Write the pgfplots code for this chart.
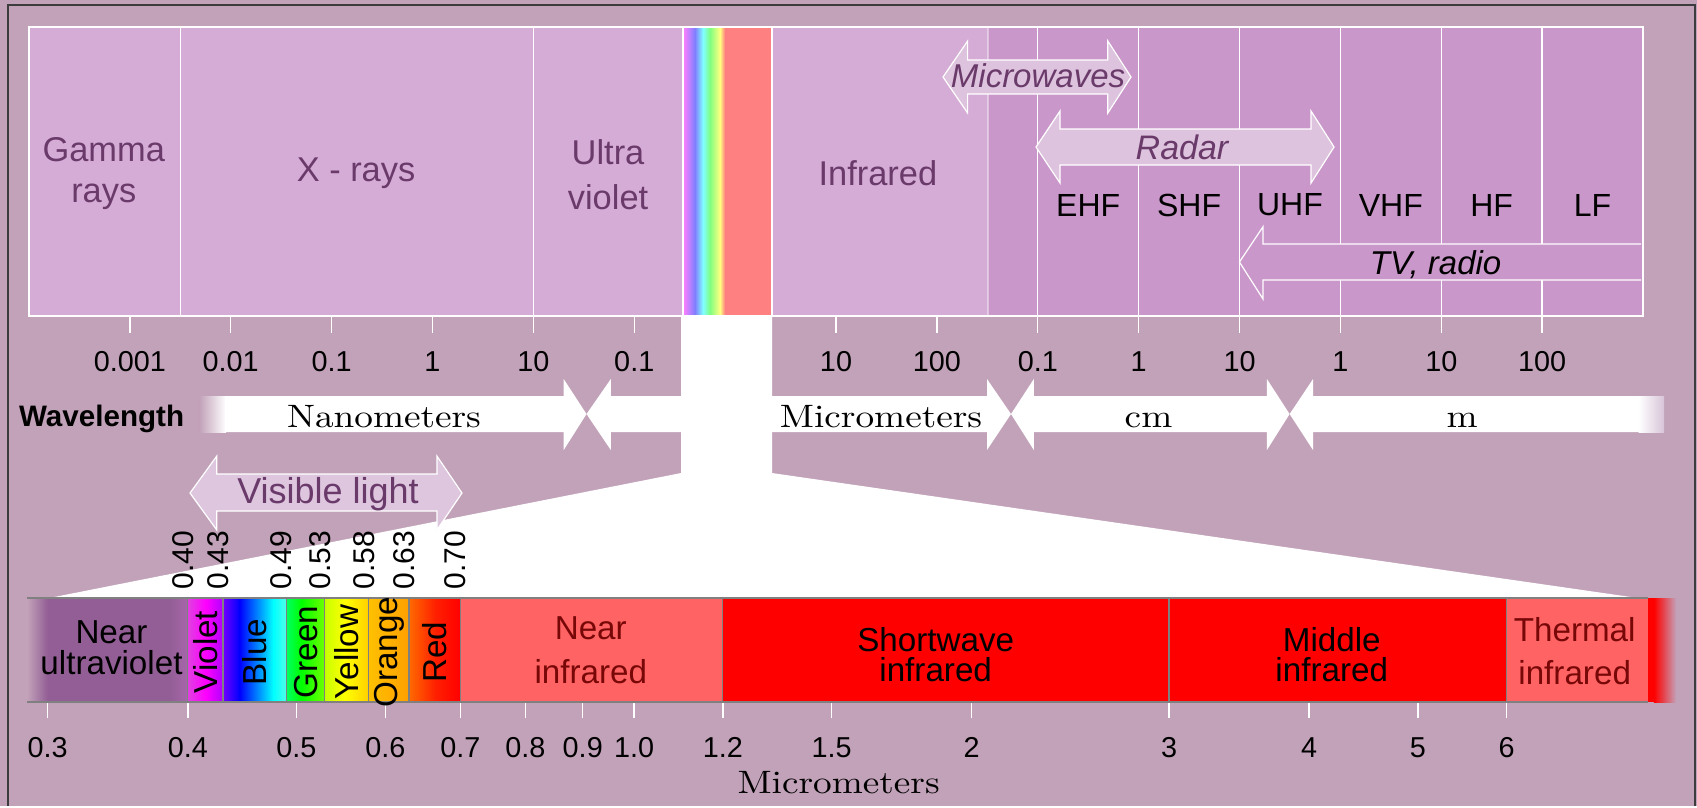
\documentclass[border=0pt]{standalone}
\usepackage{fontspec}
\setmainfont{Liberation Sans}
\newfontfamily\wserif{lmroman10-regular.otf}[FakeStretch=1.15]
\usepackage{pgfplots}
\pgfplotsset{compat=1.18}
\definecolor{bg}{HTML}{C2A2B9}
\definecolor{panelL}{HTML}{D5ACD5}
\definecolor{panelD}{HTML}{CA97CA}
\definecolor{arrowfill}{HTML}{DDC3DD}
\definecolor{vlfill}{HTML}{DEC6DF}
\definecolor{txtp}{HTML}{6A3A6A}
\definecolor{nuv}{HTML}{925E95}
\definecolor{nuvB}{HTML}{A866AC}
\definecolor{nir}{HTML}{FF6363}
\definecolor{dred}{HTML}{780808}
\definecolor{bordc}{HTML}{3C3C3C}
\definecolor{sepc}{HTML}{808080}
\definecolor{fadeend}{HTML}{D8C4D8}
\definecolor{rbA}{HTML}{FF80FF}
\definecolor{rbB}{HTML}{8080FF}
\definecolor{rbC}{HTML}{80FFFF}
\definecolor{rbD}{HTML}{80FF80}
\definecolor{rbE}{HTML}{FFFF80}
\definecolor{rbF}{HTML}{FF8080}
\definecolor{vA}{HTML}{E040E0}
\definecolor{vB}{HTML}{FF00FF}
\definecolor{vC}{HTML}{B000FF}
\definecolor{bA}{HTML}{7000FF}
\definecolor{bB}{HTML}{0000FF}
\definecolor{bC}{HTML}{00FFFF}
\definecolor{bD}{HTML}{50FFE8}
\definecolor{gA}{HTML}{00FF60}
\definecolor{gB}{HTML}{00FF00}
\definecolor{gC}{HTML}{70FF00}
\definecolor{yA}{HTML}{C8FF00}
\definecolor{yB}{HTML}{FFFF00}
\definecolor{yC}{HTML}{FFD000}
\definecolor{oA}{HTML}{FFC000}
\definecolor{oB}{HTML}{FFA000}
\definecolor{rA}{HTML}{FF6A00}
\definecolor{rB}{HTML}{FF2000}
\definecolor{rC}{HTML}{FF0000}
\newcommand\fs[1]{\fontsize{#1}{#1}\selectfont}
\pgfplotsset{canvas/.style={scale only axis, width=424.25pt, height=201.5pt,
  xmin=0, xmax=1697, ymin=0, ymax=806, y dir=reverse, hide axis, clip=false,
  at={(0,0)}, anchor=north west}}
\begin{document}
\begin{tikzpicture}
% ---------------- canvas (pixel coordinates) ----------------
\begin{axis}[canvas]
\addplot[fill=bg, draw=none] coordinates {(0,0) (1697,0) (1697,806) (0,806)} -- cycle;
\addplot[bordc, line width=0.5pt] coordinates {(8,806) (8,5) (1695,5) (1695,806)};
% white column and trapezoid
\addplot[fill=white, draw=none] coordinates {(681,310) (772,310) (772,473) (1638,598) (49,598) (681,473)} -- cycle;
% wavelength arrows
\addplot[draw=none, left color=bg, right color=white] coordinates {(199.5,396) (226,396) (226,432) (199.5,432)} -- cycle;
\addplot[fill=white, draw=none] coordinates {(225,396) (563.7,396) (563.7,379) (586.5,414) (563.7,450) (563.7,432) (225,432)} -- cycle;
\addplot[fill=white, draw=none] coordinates {(586.5,414) (610.8,379) (610.8,396) (684,396) (684,432) (610.8,432) (610.8,450)} -- cycle;
\addplot[fill=white, draw=none] coordinates {(770,396) (987,396) (987,379) (1011,414) (987,450) (987,432) (770,432)} -- cycle;
\addplot[fill=white, draw=none] coordinates {(1011,414) (1033.8,379) (1033.8,396) (1266.9,396) (1266.9,379) (1289.6,414) (1266.9,450) (1266.9,432) (1033.8,432) (1033.8,450)} -- cycle;
\addplot[fill=white, draw=none] coordinates {(1289.6,414) (1313,379) (1313,396) (1639,396) (1639,432) (1313,432) (1313,450)} -- cycle;
\addplot[draw=none, left color=white, right color=fadeend] coordinates {(1638.5,396) (1664,396) (1664,432) (1638.5,432)} -- cycle;
\node[font=\bfseries\fs{7.4}, anchor=base] at (axis cs:101.6,426) {Wavelength};
\node[font=\wserif\fs{8.1}, anchor=base] at (axis cs:384,427) {Nanometers};
\node[font=\wserif\fs{8.1}, anchor=base] at (axis cs:881,427) {Micrometers};
\node[font=\wserif\fs{8.1}, anchor=base] at (axis cs:1148.5,427) {cm};
\node[font=\wserif\fs{8.1}, anchor=base] at (axis cs:1462,427) {m};
% visible light arrow
\addplot[fill=vlfill, draw=white, line width=0.3pt] coordinates {(190,493) (216.8,456) (216.8,474) (436.9,474) (436.9,456) (462,493) (436.9,530) (436.9,511) (216.8,511) (216.8,530)} -- cycle;
\node[text=txtp, font=\fs{9}] at (axis cs:328,494) {Visible light};
\end{axis}
% ---------------- top panel: wavelength in metres ----------------
\begin{axis}[at={(7.25pt,-6.75pt)}, anchor=north west, scale only axis,
  width=403.5pt, height=72.25pt, xmode=log, xmin=1e-13, xmax=1e3, ymin=0, ymax=1,
  clip=false, axis on top, axis line style={white, line width=0.35pt},
  ytick=\empty, xminorticks=false,
  xtick={1e-12,1e-11,1e-10,1e-9,1e-8,1e-7,1e-5,1e-4,1e-3,1e-2,1e-1,1,10,100},
  xticklabels={0.001,0.01,0.1,1,10,0.1,10,100,0.1,1,10,1,10,100},
  xtick pos=left, tick align=outside, major tick length=4.25pt,
  tick style={white, line width=0.35pt},
  xticklabel style={font=\fs{7.2}, text=black, anchor=north, inner sep=0pt},
  xticklabel shift=4.5pt]
\addplot[fill=panelL, draw=none] coordinates {(1e-13,0) (3.062e-7,0) (3.062e-7,1) (1e-13,1)} -- cycle;
\addplot[fill=panelL, draw=none] coordinates {(2.3e-6,0) (3.2e-4,0) (3.2e-4,1) (2.3e-6,1)} -- cycle;
\addplot[fill=panelD, draw=none] coordinates {(3.2e-4,0) (1e3,0) (1e3,1) (3.2e-4,1)} -- cycle;
% rainbow column
\addplot[draw=none, left color=rbA, right color=rbB] coordinates {(3.062e-7,0) (4.0e-7,0) (4.0e-7,1) (3.062e-7,1)} -- cycle;
\addplot[draw=none, left color=rbB, right color=rbC] coordinates {(4.0e-7,0) (4.81e-7,0) (4.81e-7,1) (4.0e-7,1)} -- cycle;
\addplot[draw=none, left color=rbC, right color=rbD] coordinates {(4.81e-7,0) (5.64e-7,0) (5.64e-7,1) (4.81e-7,1)} -- cycle;
\addplot[draw=none, left color=rbD, right color=rbE] coordinates {(5.64e-7,0) (7.08e-7,0) (7.08e-7,1) (5.64e-7,1)} -- cycle;
\addplot[draw=none, left color=rbE, right color=rbF] coordinates {(7.08e-7,0) (7.94e-7,0) (7.94e-7,1) (7.08e-7,1)} -- cycle;
\addplot[fill=rbF, draw=none] coordinates {(7.94e-7,0) (2.3e-6,0) (2.3e-6,1) (7.94e-7,1)} -- cycle;
% separators
\addplot[white, line width=0.35pt] coordinates {(3.162e-12,0) (3.162e-12,1)};
\addplot[white, line width=0.35pt] coordinates {(1e-8,0) (1e-8,1)};
\addplot[white, line width=0.5pt] coordinates {(3.062e-7,0) (3.062e-7,1)};
\addplot[white, line width=0.5pt] coordinates {(2.3e-6,0) (2.3e-6,1)};
\addplot[white, opacity=0.4, line width=0.35pt] coordinates {(3.2e-4,0) (3.2e-4,1)};
\addplot[white, line width=0.35pt] coordinates {(1e-3,0) (1e-3,1)};
\addplot[white, line width=0.35pt] coordinates {(1e-2,0) (1e-2,1)};
\addplot[white, line width=0.35pt] coordinates {(1e-1,0) (1e-1,1)};
\addplot[white, line width=0.35pt] coordinates {(1,0) (1,1)};
\addplot[white, line width=0.35pt] coordinates {(10,0) (10,1)};
\addplot[white, line width=0.35pt] coordinates {(100,0) (100,1)};
% labels
\node[text=txtp, font=\fs{8.6}] at (axis cs:5.51e-13,0.574) {Gamma};
\node[text=txtp, font=\fs{8.6}] at (axis cs:5.51e-13,0.412) {rays};
\node[text=txtp, font=\fs{8.6}] at (axis cs:1.746e-10,0.495) {X - rays};
\node[text=txtp, font=\fs{8.6}] at (axis cs:5.5e-8,0.567) {Ultra};
\node[text=txtp, font=\fs{8.6}] at (axis cs:5.5e-8,0.412) {violet};
\node[text=txtp, font=\fs{8.6}] at (axis cs:2.6e-5,0.495) {Infrared};
\node[font=\fs{8}] at (axis cs:3.162e-3,0.384) {EHF};
\node[font=\fs{8}] at (axis cs:3.162e-2,0.384) {SHF};
\node[font=\fs{8}] at (axis cs:3.162e-1,0.384) {UHF};
\node[font=\fs{8}] at (axis cs:3.162,0.384) {VHF};
\node[font=\fs{8}] at (axis cs:31.62,0.384) {HF};
\node[font=\fs{8}] at (axis cs:316.2,0.384) {LF};
\end{axis}
% ---------------- bottom bar: micrometres ----------------
\begin{axis}[at={(6.75pt,-149.5pt)}, anchor=north west, scale only axis,
  width=413.25pt, height=26pt, xmode=log, xmin=0.2875, xmax=8.566, ymin=0, ymax=1,
  clip=false, axis line style={draw=none}, ytick=\empty, xminorticks=false,
  xtick={0.3,0.4,0.5,0.6,0.7,0.8,0.9,1,1.2,1.5,2,3,4,5,6},
  xticklabels={0.3,0.4,0.5,0.6,0.7,0.8,0.9,1.0,1.2,1.5,2,3,4,5,6},
  xtick pos=left, tick align=outside, major tick length=4pt,
  tick style={white, line width=0.35pt},
  xticklabel style={font=\fs{7.2}, text=black, anchor=north, inner sep=0pt},
  xticklabel shift=4.6pt,
  xlabel={Micrometers},
  xlabel style={font=\wserif\fs{8.1}, at={(axis description cs:0.491,-0.875)}, anchor=base}]
\addplot[draw=none, left color=bg, right color=nuv] coordinates {(0.2875,0) (0.3,0) (0.3,1) (0.2875,1)} -- cycle;
\addplot[fill=nuv, draw=none] coordinates {(0.3,0) (0.385,0) (0.385,1) (0.3,1)} -- cycle;
\addplot[draw=none, left color=nuv, right color=nuvB] coordinates {(0.385,0) (0.4,0) (0.4,1) (0.385,1)} -- cycle;
\addplot[draw=none, left color=vA, right color=vB] coordinates {(0.40,0) (0.415,0) (0.415,1) (0.40,1)} -- cycle;
\addplot[draw=none, left color=vB, right color=vC] coordinates {(0.415,0) (0.43,0) (0.43,1) (0.415,1)} -- cycle;
\addplot[draw=none, left color=bA, right color=bB] coordinates {(0.43,0) (0.445,0) (0.445,1) (0.43,1)} -- cycle;
\addplot[draw=none, left color=bB, right color=bC] coordinates {(0.445,0) (0.477,0) (0.477,1) (0.445,1)} -- cycle;
\addplot[draw=none, left color=bC, right color=bD] coordinates {(0.477,0) (0.49,0) (0.49,1) (0.477,1)} -- cycle;
\addplot[draw=none, left color=gA, right color=gB] coordinates {(0.49,0) (0.505,0) (0.505,1) (0.49,1)} -- cycle;
\addplot[draw=none, left color=gB, right color=gC] coordinates {(0.505,0) (0.53,0) (0.53,1) (0.505,1)} -- cycle;
\addplot[draw=none, left color=yA, right color=yB] coordinates {(0.53,0) (0.552,0) (0.552,1) (0.53,1)} -- cycle;
\addplot[draw=none, left color=yB, right color=yC] coordinates {(0.552,0) (0.58,0) (0.58,1) (0.552,1)} -- cycle;
\addplot[draw=none, left color=oA, right color=oB] coordinates {(0.58,0) (0.63,0) (0.63,1) (0.58,1)} -- cycle;
\addplot[draw=none, left color=rA, right color=rB] coordinates {(0.63,0) (0.665,0) (0.665,1) (0.63,1)} -- cycle;
\addplot[draw=none, left color=rB, right color=rC] coordinates {(0.665,0) (0.70,0) (0.70,1) (0.665,1)} -- cycle;
\addplot[fill=nir, draw=none] coordinates {(0.70,0) (1.2,0) (1.2,1) (0.70,1)} -- cycle;
\addplot[fill=rC, draw=none] coordinates {(1.2,0) (6,0) (6,1) (1.2,1)} -- cycle;
\addplot[fill=nir, draw=none] coordinates {(6,0) (8.02,0) (8.02,1) (6,1)} -- cycle;
\addplot[fill=rC, draw=none] coordinates {(8.02,0) (8.12,0) (8.12,1) (8.02,1)} -- cycle;
\addplot[draw=none, left color=rC, right color=bg] coordinates {(8.12,0) (8.5,0) (8.5,1) (8.12,1)} -- cycle;
% separators and edges
\addplot[sepc, line width=0.3pt] coordinates {(0.2875,1) (8.02,1)};
\addplot[sepc, line width=0.3pt] coordinates {(0.2875,0) (8.02,0)};
\addplot[sepc, line width=0.3pt] coordinates {(0.40,0) (0.40,1)};
\addplot[sepc, line width=0.3pt] coordinates {(0.43,0) (0.43,1)};
\addplot[sepc, line width=0.3pt] coordinates {(0.49,0) (0.49,1)};
\addplot[sepc, line width=0.3pt] coordinates {(0.53,0) (0.53,1)};
\addplot[sepc, line width=0.3pt] coordinates {(0.58,0) (0.58,1)};
\addplot[sepc, line width=0.3pt] coordinates {(0.63,0) (0.63,1)};
\addplot[sepc, line width=0.3pt] coordinates {(0.70,0) (0.70,1)};
\addplot[sepc, line width=0.3pt] coordinates {(1.2,0) (1.2,1)};
\addplot[sepc, line width=0.3pt] coordinates {(3,0) (3,1)};
\addplot[sepc, line width=0.3pt] coordinates {(6,0) (6,1)};
% band labels
\node[font=\fs{8.3}] at (axis cs:0.342,0.673) {Near};
\node[font=\fs{8.3}] at (axis cs:0.342,0.375) {ultraviolet};
\node[font=\fs{8.3}, rotate=90] at (axis cs:0.4147,0.48) {Violet};
\node[font=\fs{8.3}, rotate=90] at (axis cs:0.459,0.48) {Blue};
\node[font=\fs{8.3}, rotate=90] at (axis cs:0.5096,0.48) {Green};
\node[font=\fs{8.3}, rotate=90] at (axis cs:0.5544,0.48) {Yellow};
\node[font=\fs{8.3}, rotate=90] at (axis cs:0.6045,0.48) {Orange};
\node[font=\fs{8.3}, rotate=90] at (axis cs:0.664,0.48) {Red};
\node[text=dred, font=\fs{8.3}] at (axis cs:0.915,0.712) {Near};
\node[text=dred, font=\fs{8.3}] at (axis cs:0.915,0.288) {infrared};
\node[font=\fs{8.3}] at (axis cs:1.858,0.596) {Shortwave};
\node[font=\fs{8.3}] at (axis cs:1.858,0.308) {infrared};
\node[font=\fs{8.3}] at (axis cs:4.19,0.596) {Middle};
\node[font=\fs{8.3}] at (axis cs:4.19,0.308) {infrared};
\node[text=dred, font=\fs{8.3}] at (axis cs:6.90,0.692) {Thermal};
\node[text=dred, font=\fs{8.3}] at (axis cs:6.90,0.279) {infrared};
% boundary values
\node[xshift=-1.25pt, yshift=2pt, rotate=90, anchor=west, inner sep=0pt, font=\fs{7.5}] at (axis cs:0.40,1) {0.40};
\node[xshift=-1.25pt, yshift=2pt, rotate=90, anchor=west, inner sep=0pt, font=\fs{7.5}] at (axis cs:0.43,1) {0.43};
\node[xshift=-1.25pt, yshift=2pt, rotate=90, anchor=west, inner sep=0pt, font=\fs{7.5}] at (axis cs:0.49,1) {0.49};
\node[xshift=-1.25pt, yshift=2pt, rotate=90, anchor=west, inner sep=0pt, font=\fs{7.5}] at (axis cs:0.53,1) {0.53};
\node[xshift=-1.25pt, yshift=2pt, rotate=90, anchor=west, inner sep=0pt, font=\fs{7.5}] at (axis cs:0.58,1) {0.58};
\node[xshift=-1.25pt, yshift=2pt, rotate=90, anchor=west, inner sep=0pt, font=\fs{7.5}] at (axis cs:0.63,1) {0.63};
\node[xshift=-1.25pt, yshift=2pt, rotate=90, anchor=west, inner sep=0pt, font=\fs{7.5}] at (axis cs:0.70,1) {0.70};
\end{axis}
% ---------------- overlay: band arrows (pixel coordinates) ----------------
\begin{axis}[canvas]
\addplot[fill=arrowfill, draw=white, line width=0.3pt] coordinates {(943,77) (967.6,41) (967.6,60) (1107.8,60) (1107.8,41) (1131,77) (1107.8,113) (1107.8,94) (967.6,94) (967.6,113)} -- cycle;
\node[text=txtp, font=\itshape\fs{8.25}] at (axis cs:1038,76) {Microwaves};
\addplot[fill=arrowfill, draw=white, line width=0.3pt] coordinates {(1036,147) (1060,111) (1060,129) (1311,129) (1311,111) (1334,147) (1311,183) (1311,165) (1060,165) (1060,183)} -- cycle;
\node[text=txtp, font=\itshape\fs{8.5}] at (axis cs:1182,147) {Radar};
\addplot[fill=panelD, draw=none] coordinates {(1641,244) (1263,244) (1263,226.7) (1239.4,262) (1263,299) (1263,280) (1641,280)} -- cycle;
\addplot[white, line width=0.3pt] coordinates {(1641,244) (1263,244) (1263,226.7) (1239.4,262) (1263,299) (1263,280) (1641,280)};
\node[font=\itshape\fs{8.25}] at (axis cs:1435.6,265) {TV, radio};
\end{axis}
\end{tikzpicture}
\end{document}
